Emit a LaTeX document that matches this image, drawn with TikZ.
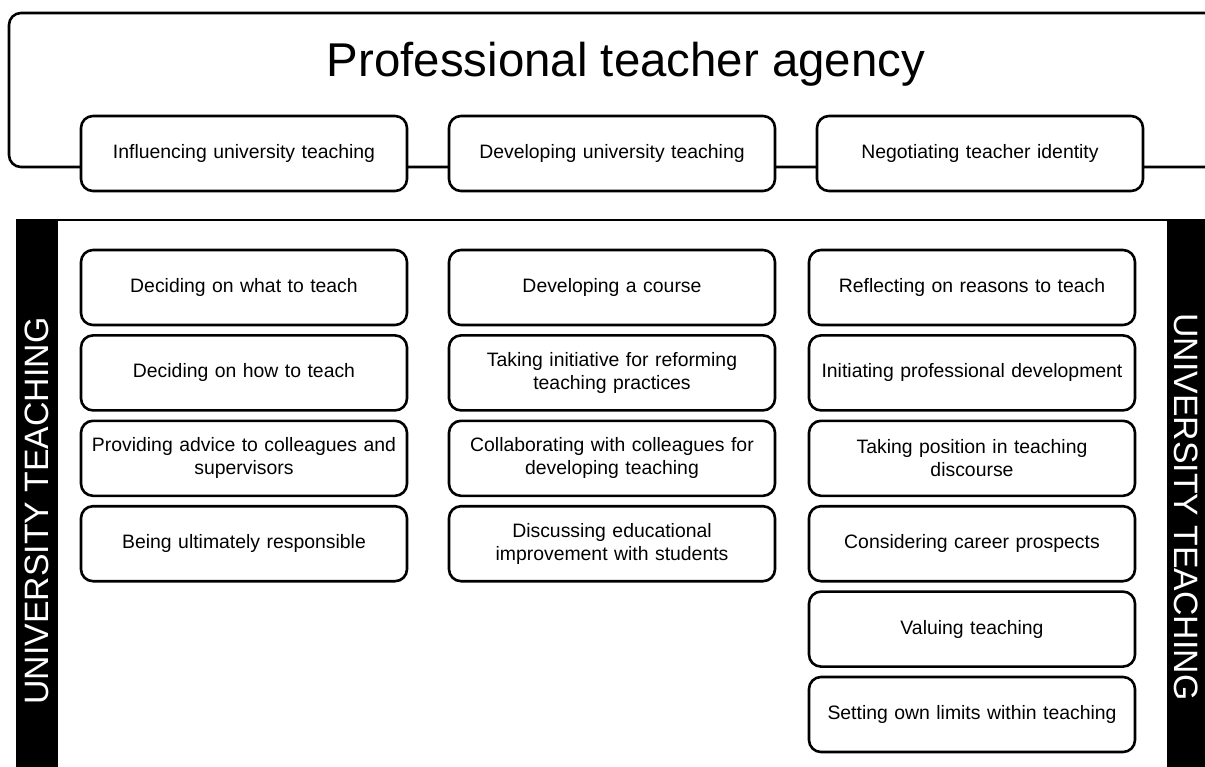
\documentclass[tikz,border=0pt]{standalone}
\usepackage{fontspec}
\setmainfont{Liberation Sans}
\usetikzlibrary{positioning}

\begin{document}
\begin{tikzpicture}[x=1pt,y=-1pt,
    node distance=7.8pt,
    item/.style={draw, line width=2.6pt, rounded corners=12pt, fill=white,
      minimum width=326pt, minimum height=75pt, text width=316pt,
      align=center, inner sep=0pt, font=\fontsize{19.4}{23}\selectfont},
    bandtext/.style={text=white, inner sep=0pt, font=\fontsize{33.8}{40}\selectfont}]
  \useasboundingbox (0,0) rectangle (1205,767);
  \clip (0,0) rectangle (1205,767);

  % outer frame of the heading, open to the right
  \draw[line width=2.6pt, rounded corners=12pt]
    (1260,167) -- (9,167) -- (9,13) -- (1260,13);
  \node[font=\fontsize{47.4}{56}\selectfont] (title) at (626,64) {Professional teacher agency};

  \node[item] (influencing) at (244,153.5) {Influencing university teaching};
  \node[item] (developing)  at (612,153.5) {Developing university teaching};
  \node[item] (negotiating) at (980,153.5) {Negotiating teacher identity};

  % lower panel with the two side bands
  \draw[line width=2.2pt] (16,220) -- (1205,220);
  \fill[black] (16,219) rectangle (58,780);
  \fill[black] (1167,219) rectangle (1220,780);
  \node[bandtext, rotate=90]  (leftband)  at (37,511)   {UNIVERSITY TEACHING};
  \node[bandtext, rotate=-90] (rightband) at (1186,507) {UNIVERSITY TEACHING};

  % first column
  \node[item] (infl1) at (244,287.5) {Deciding on what to teach};
  \node[item, below=of infl1] (infl2) {Deciding on how to teach};
  \node[item, below=of infl2] (infl3) {Providing advice to colleagues and\\supervisors};
  \node[item, below=of infl3] (infl4) {Being ultimately responsible};

  % second column
  \node[item] (dev1) at (612,287.5) {Developing a course};
  \node[item, below=of dev1] (dev2) {Taking initiative for reforming\\teaching practices};
  \node[item, below=of dev2] (dev3) {Collaborating with colleagues for\\developing teaching};
  \node[item, below=of dev3] (dev4) {Discussing educational\\improvement with students};

  % third column
  \node[item] (neg1) at (972,287.5) {Reflecting on reasons to teach};
  \node[item, below=of neg1] (neg2) {Initiating professional development};
  \node[item, below=of neg2] (neg3) {Taking position in teaching\\discourse};
  \node[item, below=of neg3] (neg4) {Considering career prospects};
  \node[item, below=of neg4] (neg5) {Valuing teaching};
  \node[item, below=of neg5] (neg6) {Setting own limits within teaching};
\end{tikzpicture}
\end{document}
